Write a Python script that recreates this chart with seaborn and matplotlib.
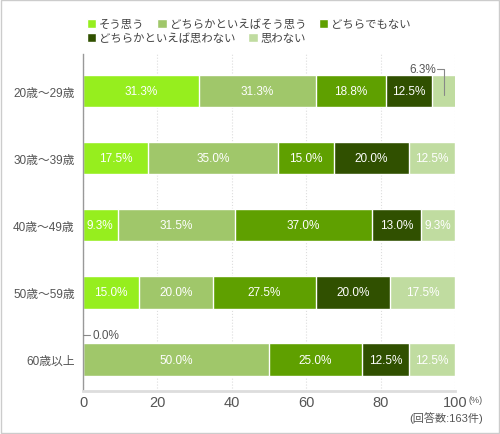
import numpy as np
import pandas as pd
import seaborn as sns
import matplotlib.pyplot as plt
from matplotlib.patches import Patch, Rectangle

# age groups and answers
groups = ['20歳～29歳', '30歳～39歳', '40歳～49歳', '50歳～59歳', '60歳以上']
answers = ['そう思う', 'どちらかといえばそう思う', 'どちらでもない',
           'どちらかといえば思わない', '思わない']
colors = ['#96ee1e', '#a0c76a', '#5fa000', '#305000', '#c0dca0']

so_omou = [31.3, 17.5, 9.3, 15.0, 0.0]
dochira_so = [31.3, 35.0, 31.5, 20.0, 50.0]
dochira_demo = [18.8, 15.0, 37.0, 27.5, 25.0]
dochira_omowanai = [12.5, 20.0, 13.0, 20.0, 12.5]
omowanai = [6.3, 12.5, 9.3, 17.5, 12.5]

sns.set_style('white')
plt.rcParams['font.family'] = ['Liberation Sans', 'Noto Sans CJK JP', 'DejaVu Sans']

vals = np.array([so_omou, dochira_so, dochira_demo, dochira_omowanai, omowanai])
cum = vals.cumsum(axis=0)
txt = '#555555'

fig = plt.figure(figsize=(5, 4.35), dpi=100)
ax = fig.add_axes([0.166, 0.099, 0.744, 0.775])

# stacked bars: draw cumulative totals, largest first
for i in range(len(answers) - 1, -1, -1):
    df = pd.DataFrame({'group': groups, 'value': cum[i]})
    sns.barplot(data=df, x='value', y='group', orient='h', color=colors[i],
                width=0.48, saturation=1, ax=ax, zorder=2)

# segment labels
for i in range(len(answers)):
    for j in range(len(groups)):
        v = vals[i, j]
        if v < 8:
            continue
        c = cum[i, j] - v / 2
        ax.text(c, j, f'{v:.1f}%', color='white', ha='center', va='center',
                fontsize=8.5, zorder=3)

# small segments with leader lines
c = cum[4, 0] - vals[4, 0] / 2
ax.plot([c, c, c - 1.8], [0.05, -0.33, -0.33], color='#888', lw=0.8, clip_on=False, zorder=3)
ax.text(c - 2.2, -0.33, f'{vals[4, 0]:.1f}%', color=txt, ha='right', va='center', fontsize=8.5)
ax.plot([0, 2], [3.63, 3.63], color='#888', lw=0.8, clip_on=False, zorder=3)
ax.text(2.6, 3.63, f'{vals[0, 4]:.1f}%', color=txt, ha='left', va='center', fontsize=8.5)

ax.set_xlim(0, 100)
ax.set_xticks([0, 20, 40, 60, 80, 100])
ax.set_xlabel('')
ax.set_ylabel('')
ax.grid(axis='x', linestyle=':', color='#dddddd', lw=0.8, zorder=0)
ax.set_axisbelow(True)
for s in ['top', 'right']:
    ax.spines[s].set_visible(False)
ax.spines['left'].set_color('#999999')
ax.spines['left'].set_linewidth(1)
ax.spines['bottom'].set_color('#dddddd')
ax.spines['bottom'].set_linewidth(2)
ax.tick_params(axis='x', length=0, pad=3, labelsize=10.5, labelcolor=txt)
ax.tick_params(axis='y', length=2, width=0.8, color='#555', pad=4, labelsize=8.5, labelcolor=txt)

fig.text(0.937, 0.079, '(%)', fontsize=6.5, color=txt, ha='left', va='center')
fig.text(0.966, 0.039, '(回答数:163件)', fontsize=8, color=txt, ha='right', va='center')

# legend in two flowing rows
h = [Patch(facecolor=c) for c in colors]
kw = dict(frameon=False, fontsize=8.2, handlelength=0.85, handleheight=0.85,
          handletextpad=0.25, columnspacing=1.1, borderpad=0, labelcolor='#444')
fig.legend(h[:3], answers[:3], ncol=3, loc='center left',
           bbox_to_anchor=(0.162, 0.943), **kw)
fig.legend(h[3:], answers[3:], ncol=2, loc='center left',
           bbox_to_anchor=(0.162, 0.910), **kw)

fig.patches.append(Rectangle((0.002, 0.002), 0.996, 0.996, transform=fig.transFigure,
                             fill=False, edgecolor='#cccccc', lw=1))

fig.savefig('out.png', dpi=100)
